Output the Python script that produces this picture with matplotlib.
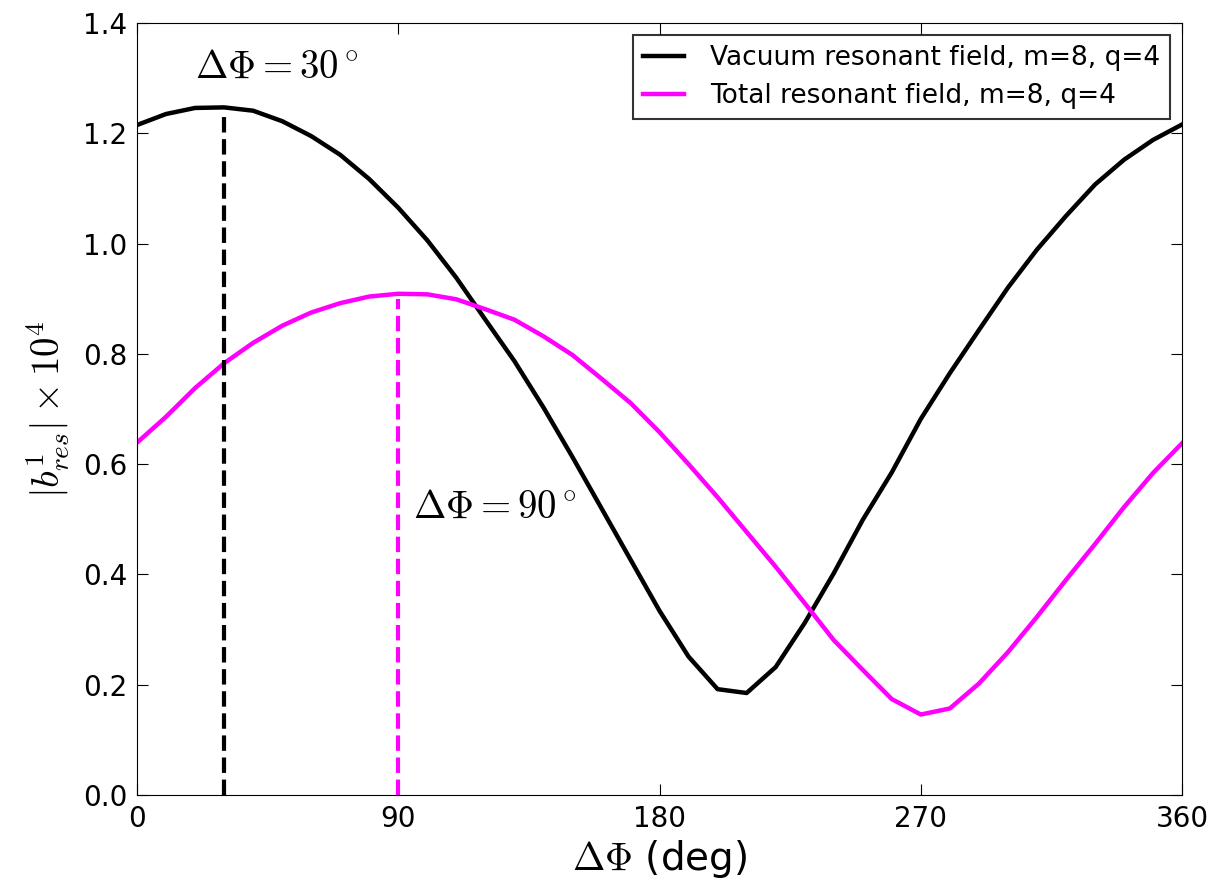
import matplotlib
matplotlib.use("Agg")
import matplotlib.pyplot as plt
import numpy as np

plt.rcParams["mathtext.fontset"] = "cm"
plt.rcParams["font.family"] = "DejaVu Sans"

# phase difference (deg), sampled every 10 degrees
dphi = np.arange(0, 361, 10)

vacuum = [1.215, 1.235, 1.246, 1.247, 1.241, 1.222, 1.195, 1.161, 1.117, 1.065,
          1.006, 0.938, 0.862, 0.787, 0.703, 0.613, 0.520, 0.427, 0.334, 0.251,
          0.192, 0.185, 0.232, 0.312, 0.402, 0.499, 0.585, 0.682, 0.765, 0.843,
          0.920, 0.989, 1.050, 1.107, 1.152, 1.188, 1.216]

total = [0.639, 0.686, 0.738, 0.783, 0.820, 0.851, 0.875, 0.892, 0.904, 0.909,
         0.908, 0.899, 0.881, 0.862, 0.832, 0.798, 0.755, 0.711, 0.658, 0.600,
         0.540, 0.477, 0.414, 0.348, 0.281, 0.227, 0.174, 0.146, 0.157, 0.202,
         0.259, 0.323, 0.390, 0.455, 0.522, 0.584, 0.638]

vac_peak = 30
tot_peak = 90

fig = plt.figure(figsize=(12.2, 8.82), dpi=100)
ax = fig.add_axes([0.1123, 0.0986, 0.8566, 0.8753])

ax.plot(dphi, vacuum, color="black", lw=3.2, label="Vacuum resonant field, m=8, q=4")
ax.plot(dphi, total, color="magenta", lw=3.2, label="Total resonant field, m=8, q=4")

ax.vlines(vac_peak, 0, np.interp(vac_peak, dphi, vacuum) - 0.015, colors="black",
          linestyles="--", lw=3)
ax.vlines(tot_peak, 0, np.interp(tot_peak, dphi, total) - 0.01, colors="magenta",
          linestyles="--", lw=3)

ax.text(20, 1.30, r"$\Delta\Phi = 30^\circ$", fontsize=28)
ax.text(95, 0.502, r"$\Delta\Phi = 90^\circ$", fontsize=28)

ax.set_xlim(0, 360)
ax.set_ylim(0, 1.4)
ax.set_xticks([0, 90, 180, 270, 360])
ax.set_yticks(np.arange(0, 1.41, 0.2))
ax.tick_params(direction="in", top=True, right=True, labelsize=20, length=8, pad=7)
ax.set_xlabel(r"$\Delta\Phi$ (deg)", fontsize=28, labelpad=4)
ax.set_ylabel(r"$|b^1_{res}| \times 10^4$", fontsize=28, labelpad=8)

leg = ax.legend(loc="upper right", fontsize=19, fancybox=False, handlelength=1.55,
                handletextpad=1.0, borderaxespad=0.45, labelspacing=0.45,
                borderpad=0.38)
leg.get_frame().set_edgecolor("black")
leg.get_frame().set_linewidth(1.5)

fig.savefig("out.png", dpi=100)
